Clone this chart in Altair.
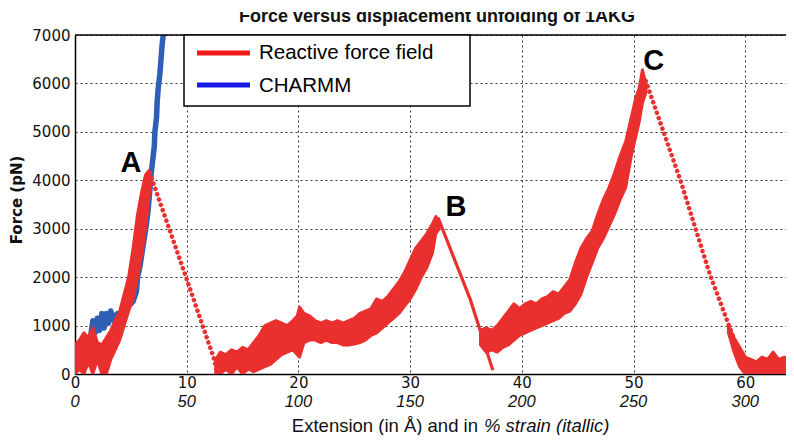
import altair as alt
import pandas as pd

# ---------------- data ----------------
# Reactive force field: noisy band, segments (x in Å, low/high force in pN)
seg1_x = [0.0, 0.4, 0.8, 1.2, 1.6, 2.0, 2.4, 2.8, 3.2, 3.6, 4.0, 4.4, 4.8, 5.2, 5.6, 6.0, 6.3, 6.6, 6.8]
seg1_hi = [600, 700, 850, 750, 950, 650, 600, 750, 900, 1100, 1300, 1650, 2000, 2600, 3300, 3800, 4100, 4200, 4050]
seg1_lo = [0, 100, 0, 250, 0, 300, 0, 0, 300, 500, 700, 1000, 1300, 1550, 2000, 2500, 3000, 3600, 3900]

seg2_x = [12.6, 13.0, 13.5, 14.0, 14.5, 15.0, 15.5, 16.0, 16.5, 17.0, 17.5, 18.0, 18.5, 19.0, 19.5,
          19.9, 20.1, 20.5, 21.0, 21.5, 22.0, 22.5, 23.0, 23.5, 24.0, 24.5, 25.0, 25.5, 26.0, 26.5,
          27.0, 27.5, 28.0, 28.5, 29.0, 29.5, 30.0, 30.5, 31.0, 31.5, 32.0, 32.3, 32.6]
seg2_hi = [300, 450, 400, 500, 450, 550, 500, 650, 800, 1000, 1050, 1100, 1050, 1000, 1100,
           1200, 1380, 1250, 1200, 1100, 1050, 1100, 1050, 1100, 1050, 1100, 1150, 1250, 1300, 1350,
           1550, 1500, 1600, 1750, 1900, 2100, 2350, 2600, 2750, 2900, 3100, 3250, 3150]
seg2_lo = [0, 0, 100, 0, 150, 0, 100, 50, 100, 150, 200, 300, 400, 450, 500,
           400, 350, 650, 700, 700, 650, 700, 650, 650, 600, 600, 620, 650, 700, 800,
           850, 950, 1050, 1150, 1250, 1400, 1550, 1750, 2000, 2200, 2500, 2900, 3000]

seg3_x = [36.3, 36.8, 37.3, 37.8, 38.3, 38.8, 39.3, 39.8, 40.3, 40.8, 41.3, 41.8, 42.3, 42.8, 43.3, 43.8,
          44.3, 44.8, 45.3, 45.8, 46.3, 46.8, 47.3, 47.8, 48.3, 48.8, 49.3, 49.8, 50.2, 50.5, 50.8, 51.1]
seg3_hi = [900, 950, 900, 1000, 1150, 1300, 1450, 1350, 1450, 1500, 1450, 1550, 1600, 1700, 1650, 1800,
           1950, 2300, 2600, 2800, 2950, 3300, 3600, 3850, 4150, 4500, 4800, 5300, 5700, 5900, 6280, 6000]
seg3_lo = [600, 450, 500, 450, 550, 600, 700, 800, 850, 900, 950, 1000, 1050, 1100, 1150, 1250,
           1300, 1450, 1650, 2000, 2300, 2600, 2800, 3050, 3300, 3600, 3850, 4500, 4900, 5200, 5600, 5800]

seg4_x = [58.5, 59.0, 59.5, 60.0, 60.5, 61.0, 61.5, 62.0, 62.5, 63.0, 63.5, 64.0]
seg4_hi = [1000, 750, 550, 350, 300, 250, 350, 300, 450, 300, 350, 300]
seg4_lo = [850, 450, 150, 0, 0, 0, 0, 0, 0, 0, 0, 0]

# Rupture drops of the reactive force field
dropA_x = [6.7, 9.94, 11.2, 12.4, 12.7]
dropA_y = [4150, 2000, 1150, 350, 50]
dropB_x = [32.5, 35.4, 37.4]
dropB_y = [3230, 1530, 80]
dropC_x = [51.1, 54.2, 56.8, 58.6, 59.7, 60.0]
dropC_y = [6050, 4000, 2080, 970, 290, 50]

# CHARMM curve
blue_x = [1.4, 1.6, 1.8, 2.0, 2.2, 2.4, 2.6, 2.8, 3.0, 3.2, 3.5, 3.8, 4.3, 4.8, 5.2, 5.5, 5.6, 5.8, 6.0, 6.2, 6.4,
          6.55, 6.7, 6.8, 6.95, 7.1, 7.15, 7.3, 7.35, 7.45, 7.6, 7.7, 7.8, 7.9, 8.0]
blue_y = [780, 1100, 850, 1150, 900, 1250, 950, 1250, 1050, 1300, 1100, 1250, 1250, 1400, 1500, 1700,
          2000, 2200, 2500, 2800, 3100, 3400, 3800, 4100, 4400, 4700, 5000, 5300, 5600, 5900, 6200,
          6500, 6800, 7000, 7200]

# Axes, labels, annotations
x_ticks = [0, 10, 20, 30, 40, 50, 60]
strain_labels = ["0", "50", "100", "150", "200", "250", "300"]
y_ticks = [0, 1000, 2000, 3000, 4000, 5000, 6000, 7000]
ann_labels = ["A", "B", "C"]
ann_x = [5.0, 34.1, 51.8]
ann_y = [4350, 3450, 6460]
legend_labels = ["Reactive force field", "CHARMM"]
title_text = "Force versus displacement unfolding of 1AKG"
xtitle_plain = "Extension (in Å) and in"
xtitle_italic = "% strain (itallic)"
ytitle = "Force (pN)"

# ---------------- build tables ----------------
XMAX = 63.65
RED = "#ea2f2f"
BLUE = "#2d5fb4"

band_rows = []
for sid, (xs, los, his) in enumerate([(seg1_x, seg1_lo, seg1_hi), (seg2_x, seg2_lo, seg2_hi),
                                      (seg3_x, seg3_lo, seg3_hi), (seg4_x, seg4_lo, seg4_hi)]):
    for x, lo, hi in zip(xs, los, his):
        band_rows.append({"x": x, "lo": lo, "hi": hi, "seg": sid})
band_df = pd.DataFrame(band_rows)

dot_rows = []
for sid, (xs, ys) in enumerate([(dropA_x, dropA_y), (dropC_x, dropC_y)]):
    for x, y in zip(xs, ys):
        dot_rows.append({"x": x, "y": y, "seg": sid})
dot_df = pd.DataFrame(dot_rows)
dropB_df = pd.DataFrame({"x": dropB_x, "y": dropB_y})
blue_df = pd.DataFrame({"x": blue_x, "y": blue_y})
ann_df = pd.DataFrame({"x": ann_x, "y": ann_y, "t": ann_labels})
strain_df = pd.DataFrame({"x": x_ticks, "s": strain_labels})
one = pd.DataFrame({"a": [0]})

xscale = alt.Scale(domain=[0, XMAX], nice=False, zero=False)
yscale = alt.Scale(domain=[0, 7000], nice=False)

xaxis = alt.Axis(values=x_ticks, grid=True, gridDash=[2, 3], gridColor="#333333", gridWidth=1,
                 ticks=False, domainColor="black", domainWidth=1.5, labelFont="DejaVu Sans",
                 labelFontSize=15, labelColor="#111111", labelPadding=1, labelFlush=False,
                 format="d", title=None)
yaxis = alt.Axis(values=y_ticks, grid=True, gridDash=[2, 3], gridColor="#333333", gridWidth=1,
                 ticks=False, domainColor="black", domainWidth=1.5, labelFont="DejaVu Sans",
                 labelFontSize=15, labelColor="#111111", labelPadding=5, format="d", title=None)


def X():
    return alt.X("x:Q", scale=xscale, axis=xaxis, title=None)


def Y(field="y:Q"):
    return alt.Y(field, scale=yscale, axis=yaxis, title=None)


blue = alt.Chart(blue_df).mark_line(color=BLUE, strokeWidth=5.5, strokeJoin="round", clip=True).encode(
    x=X(), y=Y())

band = alt.Chart(band_df).mark_area(color=RED, stroke=RED, strokeWidth=3, strokeJoin="round",
                                    opacity=1, clip=True).encode(
    x=X(), y=Y("lo:Q"), y2="hi:Q", detail="seg:N")

dots = alt.Chart(dot_df).mark_line(color=RED, strokeWidth=4.5, strokeDash=[0.1, 5.5], strokeCap="round",
                                   clip=True).encode(x=X(), y=Y(), detail="seg:N")

dropB = alt.Chart(dropB_df).mark_line(color=RED, strokeWidth=3.2, clip=True).encode(x=X(), y=Y())

top_border = alt.Chart(one).mark_rule(color="black", strokeWidth=1.5).encode(
    x=alt.value(0), x2=alt.value(711), y=alt.value(0))

# legend
leg_box = alt.Chart(one).mark_rect(fill="white", stroke="black", strokeWidth=1.5).encode(
    x=alt.value(109), x2=alt.value(395), y=alt.value(0), y2=alt.value(71))
leg_red = alt.Chart(one).mark_rule(color="#f01a1a", strokeWidth=5).encode(
    x=alt.value(122), x2=alt.value(175), y=alt.value(18))
leg_blue = alt.Chart(one).mark_rule(color="#1a1ae6", strokeWidth=5).encode(
    x=alt.value(122), x2=alt.value(175), y=alt.value(50))
leg_t1 = alt.Chart(one).mark_text(text=legend_labels[0], font="Liberation Sans", fontSize=20.5,
                                  align="left", baseline="middle", color="black").encode(
    x=alt.value(184), y=alt.value(18))
leg_t2 = alt.Chart(one).mark_text(text=legend_labels[1], font="Liberation Sans", fontSize=20.5,
                                  align="left", baseline="middle", color="black").encode(
    x=alt.value(184), y=alt.value(51))

ann = alt.Chart(ann_df).mark_text(font="Liberation Sans", fontWeight="bold", fontSize=29,
                                  baseline="middle", align="center", color="black").encode(
    x=X(), y=Y(), text="t:N")

strain = alt.Chart(strain_df).mark_text(font="Liberation Sans", fontStyle="italic", fontSize=16.5,
                                        baseline="middle", align="center", color="#111111").encode(
    x=X(), y=alt.value(367), text="s:N")

xt1 = alt.Chart(one).mark_text(text=xtitle_plain, font="Liberation Sans", fontSize=18.5, align="right",
                               baseline="middle", color="#111111").encode(x=alt.value(403), y=alt.value(391))
xt2 = alt.Chart(one).mark_text(text=xtitle_italic, font="Liberation Sans", fontSize=18.5, fontStyle="italic",
                               align="left", baseline="middle", color="#111111").encode(
    x=alt.value(409), y=alt.value(391))

yt = alt.Chart(one).mark_text(text=ytitle, font="DejaVu Sans", fontWeight="bold", fontSize=15, angle=270,
                              align="center", baseline="middle", color="#111111").encode(
    x=alt.value(-58), y=alt.value(165))

title = alt.Chart(one).mark_text(text=title_text, font="Liberation Sans", fontWeight="bold", fontSize=18,
                                 align="center", baseline="alphabetic", color="#111111").encode(
    x=alt.value(362), y=alt.value(-13))
title_cut = alt.Chart(one).mark_rect(fill="white").encode(
    x=alt.value(150), x2=alt.value(600), y=alt.value(-27), y2=alt.value(-23))

chart = alt.layer(
    blue, band, dots, dropB, top_border, leg_box, leg_red, leg_blue, leg_t1, leg_t2,
    ann, strain, xt1, xt2, yt, title, title_cut
).properties(
    width=711, height=339,
    autosize=alt.AutoSizeParams(type="none"),
    padding={"left": 67, "top": 27, "right": 0, "bottom": 61},
    background="white",
).configure_view(stroke=None)

chart.save("out.html", embed_options={"renderer": "svg", "actions": False})
